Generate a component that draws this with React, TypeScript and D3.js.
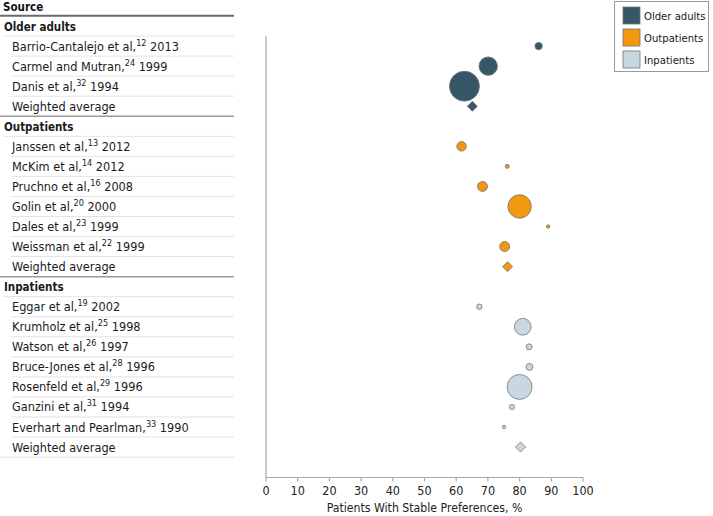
import React from "react";
import * as d3 from "d3";

const groups = ["Older adults", "Outpatients", "Inpatients"];
const groupColors = ["#365866", "#f2980f", "#c9d8e0"];

const olderNames = ["Barrio-Cantalejo et al,", "Carmel and Mutran,", "Danis et al,"];
const olderRefs = ["12", "24", "32"];
const olderYears = ["2013", "1999", "1994"];
const olderValues = [86.0, 70.1, 62.6];
const olderWeights = [6, 38, 100];
const olderAverage = 65.1;

const outNames = ["Janssen et al,", "McKim et al,", "Pruchno et al,", "Golin et al,", "Dales et al,", "Weissman et al,"];
const outRefs = ["13", "14", "16", "20", "23", "22"];
const outYears = ["2012", "2012", "2008", "2000", "1999", "1999"];
const outValues = [61.7, 76.1, 68.3, 80.0, 89.0, 75.3];
const outWeights = [10, 1.8, 11, 61, 1.3, 11];
const outAverage = 76.2;

const inNames = ["Eggar et al,", "Krumholz et al,", "Watson et al,", "Bruce-Jones et al,", "Rosenfeld et al,", "Ganzini et al,", "Everhart and Pearlman,"];
const inRefs = ["19", "25", "26", "28", "29", "31", "33"];
const inYears = ["2002", "1998", "1997", "1996", "1996", "1994", "1990"];
const inValues = [67.3, 81.0, 83.0, 83.1, 80.0, 77.6, 75.1];
const inWeights = [3.2, 31, 4, 5.4, 69, 2.8, 1.3];
const inAverage = 80.3;

const xTicks = [0, 10, 20, 30, 40, 50, 60, 70, 80, 90, 100];
const xTitle = "Patients With Stable Preferences, %";

type Row =
  | { kind: "group"; label: string; g: number }
  | { kind: "study"; name: string; ref: string; year: string; value: number; weight: number; g: number }
  | { kind: "avg"; value: number; g: number };

const groupData = [
  { names: olderNames, refs: olderRefs, years: olderYears, values: olderValues, weights: olderWeights, avg: olderAverage },
  { names: outNames, refs: outRefs, years: outYears, values: outValues, weights: outWeights, avg: outAverage },
  { names: inNames, refs: inRefs, years: inYears, values: inValues, weights: inWeights, avg: inAverage },
];

const rows: Row[] = [];
groupData.forEach((gd, g) => {
  rows.push({ kind: "group", label: groups[g], g });
  gd.names.forEach((n, i) =>
    rows.push({ kind: "study", name: n, ref: gd.refs[i], year: gd.years[i], value: gd.values[i], weight: gd.weights[i], g })
  );
  rows.push({ kind: "avg", value: gd.avg, g });
});

const FONT = "'DejaVu Sans Condensed', 'DejaVu Sans', sans-serif";

export default function App() {
  const W = 713;
  const H = 516;
  const rowTop = 16;
  const rowH = 20.05;
  const tableRight = 234;
  const x = d3.scaleLinear().domain([0, 100]).range([266, 583]);
  const r = d3.scaleSqrt().domain([0, 100]).range([0, 15]);
  const axisY = 477.5;
  const yc = (i: number) => rowTop + rowH * i + rowH / 2;

  return (
    <svg
      width={W}
      height={H}
      style={{ position: "absolute", left: 0, top: 0, fontFamily: FONT }}
    >
      <rect width={W} height={H} fill="#fff" />
      {/* header */}
      <text x={3} y={11} fontSize={11.5} fontWeight="bold" fill="#111">
        Source
      </text>
      {/* row lines */}
      {rows.map((row, i) => {
        const yb = rowTop + rowH * (i + 1);
        const next = rows[i + 1];
        const isGroupEnd = row.kind === "avg" && next !== undefined;
        const isLast = i === rows.length - 1;
        if (isGroupEnd) return null;
        return (
          <line
            key={"l" + i}
            x1={isLast ? 0 : row.kind === "group" ? 3 : 11}
            x2={tableRight}
            y1={yb}
            y2={yb}
            stroke="#e3e3e3"
            strokeWidth={1}
          />
        );
      })}
      {rows.map((row, i) => {
        const yb = rowTop + rowH * (i + 1);
        const next = rows[i + 1];
        if (row.kind === "avg" && next !== undefined) {
          return <line key={"g" + i} x1={0} x2={tableRight} y1={yb} y2={yb} stroke="#9a9a9a" strokeWidth={1.5} />;
        }
        return null;
      })}
      <line x1={0} x2={tableRight} y1={15.7} y2={15.7} stroke="#6b6b6b" strokeWidth={2} />

      {/* labels */}
      {rows.map((row, i) => {
        const y = yc(i) + 4.5;
        if (row.kind === "group")
          return (
            <text key={"t" + i} x={4} y={y} fontSize={11.5} fontWeight="bold" fill="#1a1a1a">
              {row.label}
            </text>
          );
        if (row.kind === "avg")
          return (
            <text key={"t" + i} x={12} y={y} fontSize={12.6} fill="#1a1a1a">
              Weighted average
            </text>
          );
        return (
          <text key={"t" + i} x={12} y={y} fontSize={12.6} fill="#1a1a1a">
            {row.name}
            <tspan fontSize={9} dy={-5}>{row.ref}</tspan>
            <tspan dy={5}>{" " + row.year}</tspan>
          </text>
        );
      })}

      {/* axes */}
      <line x1={266} x2={266} y1={36} y2={axisY} stroke="#a8a8a8" strokeWidth={1.2} />
      <line x1={266} x2={583} y1={axisY} y2={axisY} stroke="#a8a8a8" strokeWidth={1.2} />
      {xTicks.map((t) => (
        <g key={"x" + t}>
          <line x1={x(t)} x2={x(t)} y1={axisY} y2={axisY + 4} stroke="#a8a8a8" strokeWidth={1.2} />
          <text x={x(t)} y={495} textAnchor="middle" fontSize={12.5} fill="#222">
            {t}
          </text>
        </g>
      ))}
      <text x={x(50)} y={512} textAnchor="middle" fontSize={12.2} fill="#222">
        {xTitle}
      </text>

      {/* marks */}
      {rows.map((row, i) => {
        const y = yc(i);
        if (row.kind === "study")
          return (
            <circle
              key={"c" + i}
              cx={x(row.value)}
              cy={y}
              r={r(row.weight)}
              fill={groupColors[row.g]}
              stroke="#6f7478"
              strokeWidth={0.8}
            />
          );
        if (row.kind === "avg") {
          const s = 5;
          const cx = x(row.value);
          return (
            <path
              key={"d" + i}
              d={`M${cx},${y - s}L${cx + s},${y}L${cx},${y + s}L${cx - s},${y}Z`}
              fill={groupColors[row.g]}
              stroke="#6f7478"
              strokeWidth={0.8}
            />
          );
        }
        return null;
      })}

      {/* legend */}
      <rect x={614.5} y={1.5} width={94} height={70} fill="#fff" stroke="#9a9a9a" strokeWidth={1} />
      {groups.map((g, i) => (
        <g key={"lg" + i}>
          <rect x={623} y={7 + i * 22} width={17} height={17} fill={groupColors[i]} stroke="#6f7478" strokeWidth={0.8} />
          <text x={644} y={20 + i * 22} fontSize={11.2} fill="#1a1a1a">
            {g}
          </text>
        </g>
      ))}
    </svg>
  );
}
